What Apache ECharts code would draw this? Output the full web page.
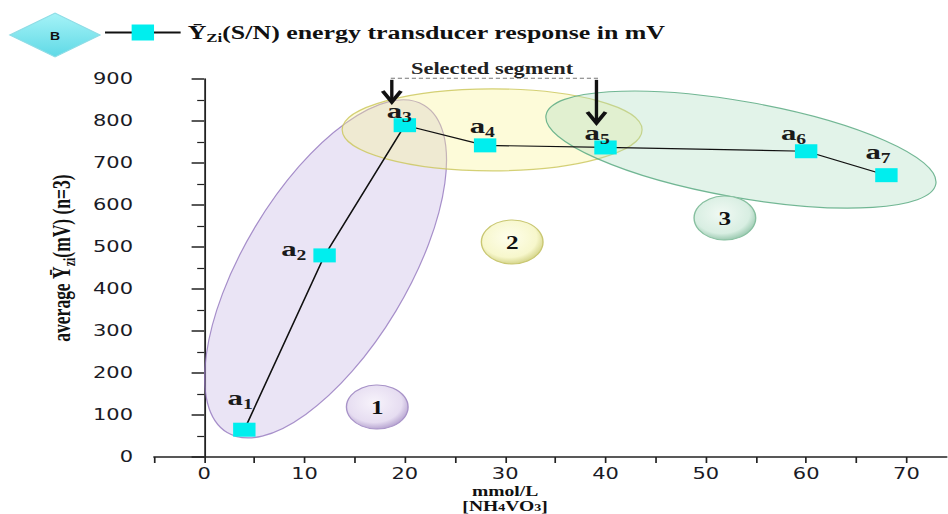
<!DOCTYPE html>
<html>
<head>
<meta charset="utf-8">
<script src="https://cdn.jsdelivr.net/npm/echarts@6/dist/echarts.min.js"></script>
<style>
html,body{margin:0;padding:0;background:#ffffff;overflow:hidden;}
/* the reference figure is horizontally stretched; the chart is drawn narrower and stretched the same way */
#c{width:677px;height:514px;transform:scaleX(1.400295);transform-origin:0 0;}
</style>
</head>
<body>
<div id="c"></div>
<script>
// ---- data ----
const concentration = [4, 12, 20, 28, 40, 60, 68];          // mmol/L [NH4VO3]
const response = [65, 480, 790, 742, 737, 728, 671];          // average Ȳzi (mV), n=3
const pointNames = ['1', '2', '3', '4', '5', '6', '7'];        // a1..a7
const xTickLabels = [0, 10, 20, 30, 40, 50, 60, 70];
const xTickMarks = [-5, 0, 5, 10, 15, 20, 25, 30, 35, 40, 45, 50, 55, 60, 65, 70];
const yTickLabels = [0, 100, 200, 300, 400, 500, 600, 700, 800, 900];
const seriesName = 'Ȳzi(S/N) energy transducer response in mV';
const groupNames = ['1', '2', '3'];

// ---- styles / annotation placement (not data) ----
const S = 948 / 677;   // horizontal stretch applied by CSS
const labelOffsets = [[-3, -32], [-22, -7], [-4, -15], [-2, -20], [-6, -15], [-9, -19], [-6, -24]];
const serif = 'Liberation Serif';
const sans = 'DejaVu Sans';

const chart = echarts.init(document.getElementById('c'), null, { renderer: 'svg' });

const option = {
  backgroundColor: '#ffffff',
  animation: false,
  grid: { left: 110, right: 1, top: 79, bottom: 57, containLabel: false, outerBoundsMode: 'none' },
  legend: {
    show: true,
    left: 74, top: 23, padding: 0,
    itemWidth: 54, itemHeight: 20, itemGap: 10,
    data: [seriesName],
    formatter: function () {
      return '{y|Ȳ}{z|Zi}{t|(S/N) energy transducer response in mV}';
    },
    textStyle: {
      color: '#111', fontFamily: serif, fontWeight: 'bold', fontSize: 18.5,
      rich: {
        y: { fontFamily: serif, fontWeight: 'bold', fontSize: 18.5, color: '#111' },
        z: { fontFamily: serif, fontWeight: 'bold', fontSize: 12, color: '#111', verticalAlign: 'bottom', padding: [0, 0, -2, 0] },
        t: { fontFamily: serif, fontWeight: 'bold', fontSize: 18.5, color: '#111' }
      }
    }
  },
  xAxis: {
    type: 'value', min: -5, max: 74, interval: 5,
    axisLine: { show: true, onZero: false, lineStyle: { color: '#222', width: 1.5 } },
    axisTick: { show: true, inside: false, length: 6, customValues: xTickMarks, lineStyle: { color: '#222', width: 1.2 } },
    axisLabel: {
      show: true, margin: 8, fontSize: 15, lineHeight: 17, fontFamily: sans, color: '#1a1a24',
      customValues: xTickLabels,
      formatter: function (v) { return xTickLabels.indexOf(v) >= 0 ? String(v) : ''; }
    },
    splitLine: { show: false }
  },
  yAxis: {
    type: 'value', min: 0, max: 900, interval: 100,
    name: '{t|average Ȳ}{s|zi}{t|(mV) (n=3)}',
    nameLocation: 'middle', nameRotate: 90, nameGap: 48,
    nameTextStyle: {
      padding: [0, 0, 0, 20],
      rich: {
        t: { fontFamily: serif, fontWeight: 'bold', fontSize: 17.5, color: '#111' },
        s: { fontFamily: serif, fontWeight: 'bold', fontSize: 12, color: '#111', verticalAlign: 'bottom', padding: [0, 0, -2, 0] }
      }
    },
    axisLine: { show: true, lineStyle: { color: '#222', width: 1.3 } },
    axisTick: { show: true, inside: false, length: 9, lineStyle: { color: '#222', width: 1.5 } },
    minorTick: { show: true, splitNumber: 2, length: 5, lineStyle: { color: '#222', width: 1.2 } },
    axisLabel: { show: true, margin: 15, fontSize: 15, fontFamily: sans, color: '#1a1a24' },
    splitLine: { show: false },
    minorSplitLine: { show: false }
  },
  series: [{
    type: 'line',
    name: seriesName,
    z: 5,
    data: concentration.map(function (x, i) {
      return { value: [x, response[i]], label: { offset: labelOffsets[i] } };
    }),
    symbol: 'rect',
    symbolSize: [16, 14],
    itemStyle: { color: '#00eeee' },
    lineStyle: { color: '#111', width: 1.2 },
    label: {
      show: true, position: 'inside',
      formatter: function (p) { return '{a|a}{s|' + pointNames[p.dataIndex] + '}'; },
      rich: {
        a: { fontFamily: serif, fontWeight: 'bold', fontSize: 22, color: '#1a1a1a' },
        s: { fontFamily: serif, fontWeight: 'bold', fontSize: 14, color: '#1a1a1a', verticalAlign: 'bottom', padding: [0, 0, -3, 0] }
      }
    },
    emphasis: { disabled: true }
  }]
};

chart.setOption(option);

// ---- annotations anchored in data space ----
function px(x, y) { return chart.convertToPixel({ gridIndex: 0 }, [x, y]); }
const deg = Math.PI / 180;

// ellipse given in the stretched (displayed) frame: rotate first, then un-stretch
function ellipse(cx, cy, rx, ry, rotDeg, fill, stroke) {
  const c = px(cx, cy);
  return {
    type: 'group', x: c[0], y: c[1], scaleX: 1 / S, scaleY: 1, silent: true,
    children: [{
      type: 'ellipse', rotation: rotDeg * deg, z: 1, silent: true,
      shape: { cx: 0, cy: 0, rx: rx, ry: ry },
      style: { fill: fill, stroke: stroke, lineWidth: 1.2 }
    }]
  };
}
function bubble(cx, cy, r, stops, stroke, txt) {
  const c = px(cx, cy);
  return [{
    type: 'circle', x: c[0], y: c[1], z: 1, silent: true,
    shape: { cx: 0, cy: 0, r: r },
    style: {
      fill: { type: 'radial', x: 0.45, y: 0.4, r: 0.6, colorStops: [
        { offset: 0, color: stops[0] }, { offset: 0.75, color: stops[1] }, { offset: 1, color: stops[2] }] },
      stroke: stroke, lineWidth: 1
    }
  }, {
    type: 'text', x: c[0], y: c[1] + 1, z: 3, silent: true,
    style: { text: txt, fill: '#111', font: 'bold 18px "Liberation Serif"', textAlign: 'center', textVerticalAlign: 'middle' }
  }];
}
function arrow(x, yTop, yTip) {
  const a = px(x, yTop), b = px(x, yTip);
  return [{
    type: 'line', z: 6, silent: true,
    shape: { x1: a[0], y1: a[1], x2: b[0], y2: b[1] - 3 },
    style: { stroke: '#111', lineWidth: 2.4 }
  }, {
    type: 'polyline', z: 6, silent: true,
    shape: { points: [[b[0] - 6.5, b[1] - 11], [b[0], b[1]], [b[0] + 6.5, b[1] - 11]] },
    style: { stroke: '#111', lineWidth: 3, fill: null }
  }];
}

const segL = px(18.6, 902), segR = px(39.4, 902), segText = px(28.7, 924);

const graphics = [
  ellipse(12.1, 448, 191, 82, 59, 'rgba(200,185,228,0.38)', 'rgba(140,110,185,0.75)'),
  ellipse(28.7, 779, 150, 41, 0, 'rgba(250,245,150,0.36)', 'rgba(205,200,95,0.85)'),
  ellipse(53.5, 732, 198, 48, -10, 'rgba(170,220,190,0.34)', 'rgba(90,170,130,0.85)')
]
.concat(bubble(17.25, 119, 22, ['#f7f3fb', '#e6ddf1', '#b9a7d2'], '#a893c8', groupNames[0]))
.concat(bubble(30.7, 512, 22, ['#fefeec', '#f7f7cc', '#d6d68c'], '#c9c772', groupNames[1]))
.concat(bubble(51.9, 569, 22, ['#f0f9f3', '#d8eee2', '#9dcbb2'], '#86bf9f', groupNames[2]))
.concat([
  { type: 'line', z: 6, silent: true,
    shape: { x1: segL[0], y1: segL[1], x2: segR[0], y2: segR[1] },
    style: { stroke: '#777', lineWidth: 1, lineDash: [3, 2] } },
  { type: 'text', x: segText[0], y: segText[1], z: 6, silent: true,
    style: { text: 'Selected segment', fill: '#222', font: 'bold 16px "Liberation Serif"', textAlign: 'center', textVerticalAlign: 'middle' } }
])
.concat(arrow(18.7, 898, 845))
.concat(arrow(39.1, 898, 795))
.concat([
  { type: 'polygon', z: 6, silent: true,
    shape: { points: [[7, 35], [39.3, 13], [71.5, 35], [39.3, 57]] },
    style: { fill: { type: 'linear', x: 0, y: 0, x2: 0, y2: 1, colorStops: [
      { offset: 0, color: '#a6f3f7' }, { offset: 1, color: '#5fd9e6' }] },
      stroke: '#8fdde6', lineWidth: 1 } },
  { type: 'text', x: 39.3, y: 37, z: 7, silent: true,
    style: { text: 'B', fill: '#111', font: 'bold 10px "Liberation Sans"', textAlign: 'center', textVerticalAlign: 'middle' } },
  { type: 'text', x: 360.7, y: 484, z: 6, silent: true,
    style: { text: 'mmol/L', fill: '#111', font: 'bold 14px "Liberation Serif"', lineHeight: 14, textAlign: 'center', textVerticalAlign: 'top' } },
  { type: 'text', x: 360.7, y: 499, z: 6, silent: true,
    style: { text: '{t|[NH}{s|4}{t|VO}{s|3}{t|]}', textAlign: 'center', textVerticalAlign: 'top',
      rich: {
        t: { fontFamily: serif, fontWeight: 'bold', fontSize: 14, lineHeight: 14, fill: '#111', color: '#111' },
        s: { fontFamily: serif, fontWeight: 'bold', fontSize: 10, lineHeight: 14, fill: '#111', color: '#111', verticalAlign: 'bottom' }
      } } }
]);

chart.setOption({ graphic: { elements: graphics } });
</script>
</body>
</html>
